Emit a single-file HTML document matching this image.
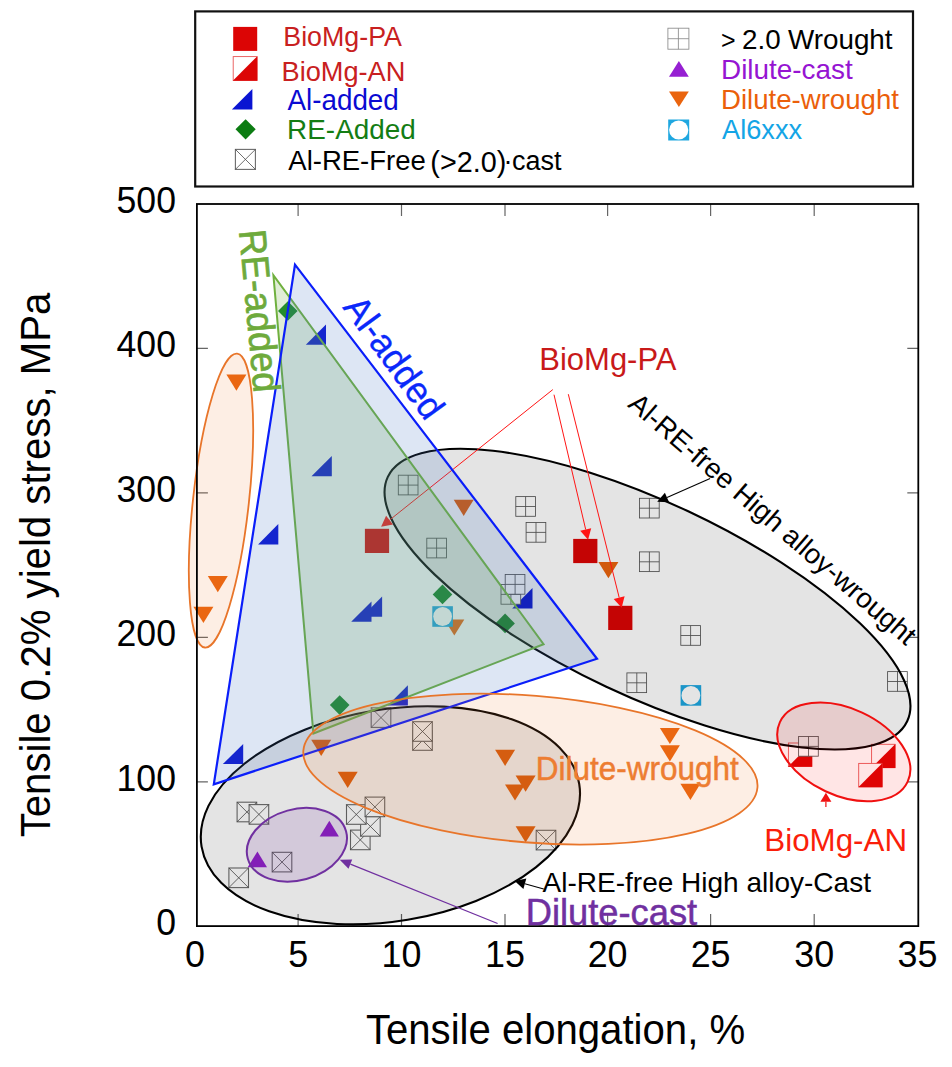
<!DOCTYPE html>
<html><head><meta charset="utf-8"><title>chart</title>
<style>html,body{margin:0;padding:0;background:#fff}svg{display:block}</style>
</head><body>
<svg width="952" height="1067" viewBox="0 0 952 1067" font-family="'Liberation Sans', sans-serif">
<rect width="952" height="1067" fill="#fff"/>
<rect x="195.2" y="11.4" width="717.8" height="175.1" fill="#fff" stroke="#111" stroke-width="2.2"/>
<rect x="233.2" y="26.9" width="24" height="24" fill="#dc0505"/>
<rect x="233.2" y="56.6" width="23.8" height="23.8" fill="#fff" stroke="#e85555" stroke-width="0.9"/>
<path d="M257.4 56.2 L257.4 80.8 L232.8 80.8 Z" fill="#dc0505"/>
<path d="M252.4 89.0 L252.4 109.5 L231.9 109.5 Z" fill="#0a14d2"/>
<path d="M245.6 119.2 L255.7 129.3 L245.6 139.4 L235.5 129.3 Z" fill="#0c7c12"/>
<g fill="none"><rect x="235.4" y="149.4" width="20" height="20" stroke="#6a6a6a" stroke-width="1.1"/><path d="M235.4 149.4 L255.4 169.4 M255.4 149.4 L235.4 169.4" stroke="#4a4a4a" stroke-width="0.8"/></g>
<text x="283.3" y="45.7" font-size="26.8" fill="#c82020" text-anchor="start">BioMg-PA</text>
<text x="281.5" y="80.6" font-size="27.2" fill="#c82020" text-anchor="start">BioMg-AN</text>
<text transform="translate(287.5 109.6) scale(0.952 1)" font-size="29.2" fill="#0a0ad2" text-anchor="start">Al-added</text>
<text x="287.1" y="139.4" font-size="27.9" fill="#147d14" text-anchor="start">RE-Added</text>
<text x="288.3" y="170.0" font-size="27.5" fill="#000" text-anchor="start">Al-RE-Free</text>
<text x="430.3" y="172.0" font-size="28.8" fill="#000" text-anchor="start">(&gt;2.0)</text>
<text x="503.5" y="170.0" font-size="27" fill="#000" text-anchor="start">·</text>
<text x="512.0" y="170.0" font-size="27" fill="#000" text-anchor="start">cast</text>
<g stroke="#8a8a8a" stroke-width="0.85" fill="#fff"><rect x="667.9" y="28.2" width="21" height="21"/><path d="M678.4 28.2 L678.4 49.2 M667.9 38.7 L688.9 38.7"/></g>
<path d="M678.9 61.0 L688.8 76.8 L669.0 76.8 Z" fill="#9620d2"/>
<path d="M669.0 91.5 L688.8 91.5 L678.9 106.9 Z" fill="#ea640e"/>
<rect x="668.2" y="119.5" width="21" height="21" fill="#1fa7e0"/><circle cx="678.7" cy="130.0" r="9.6" fill="#fff"/>
<text x="721.0" y="48.7" font-size="25" fill="#000" text-anchor="start">&gt;</text>
<text x="742.0" y="48.7" font-size="27.8" fill="#000" text-anchor="start">2.0</text>
<text x="788.0" y="48.7" font-size="27.8" fill="#000" text-anchor="start">Wrought</text>
<text x="721.0" y="78.9" font-size="27.9" fill="#9614d2" text-anchor="start">Dilute-cast</text>
<text x="721.0" y="109.3" font-size="27.6" fill="#eb5f0a" text-anchor="start">Dilute-wrought</text>
<text x="722.0" y="139.4" font-size="27.2" fill="#14a5e6" text-anchor="start">Al6xxx</text>
<g stroke="#666" stroke-width="1.2">
<path d="M298.1 926.1 V914.1 M298.1 204.0 V216.0"/>
<path d="M401.5 926.1 V914.1 M401.5 204.0 V216.0"/>
<path d="M505.0 926.1 V914.1 M505.0 204.0 V216.0"/>
<path d="M607.6 926.1 V914.1 M607.6 204.0 V216.0"/>
<path d="M710.6 926.1 V914.1 M710.6 204.0 V216.0"/>
<path d="M814.2 926.1 V914.1 M814.2 204.0 V216.0"/>
<path d="M196.9 781.8 H207.9 M918.3 781.8 H907.3"/>
<path d="M196.9 637.3 H207.9 M918.3 637.3 H907.3"/>
<path d="M196.9 492.9 H207.9 M918.3 492.9 H907.3"/>
<path d="M196.9 348.4 H207.9 M918.3 348.4 H907.3"/>
</g>
<rect x="788.4" y="743.0" width="23.4" height="23.4" fill="#fff" stroke="#e85555" stroke-width="0.9"/>
<path d="M812.2 742.6 L812.2 766.8 L788.0 766.8 Z" fill="#dc0505"/>
<rect x="871.6" y="744.3" width="23.4" height="23.4" fill="#fff" stroke="#e85555" stroke-width="0.9"/>
<path d="M895.4 743.9 L895.4 768.1 L871.2 768.1 Z" fill="#dc0505"/>
<rect x="858.7" y="763.4" width="23.4" height="23.4" fill="#fff" stroke="#e85555" stroke-width="0.9"/>
<path d="M882.5 763.0 L882.5 787.2 L858.3 787.2 Z" fill="#dc0505"/>
<path d="M326.0 324.5 L326.0 344.8 L305.8 344.8 Z" fill="#0a14d2"/>
<path d="M331.8 456.1 L331.8 476.3 L311.5 476.3 Z" fill="#0a14d2"/>
<path d="M278.3 524.1 L278.3 544.4 L258.1 544.4 Z" fill="#0a14d2"/>
<path d="M382.1 596.5 L382.1 616.8 L361.9 616.8 Z" fill="#0a14d2"/>
<path d="M371.5 601.5 L371.5 621.8 L351.2 621.8 Z" fill="#0a14d2"/>
<path d="M532.5 588.1 L532.5 608.4 L512.2 608.4 Z" fill="#0a14d2"/>
<path d="M407.9 685.2 L407.9 705.5 L387.7 705.5 Z" fill="#0a14d2"/>
<path d="M243.2 743.9 L243.2 764.1 L222.8 764.1 Z" fill="#0a14d2"/>
<g stroke="#555" stroke-width="0.85" fill="#fff"><rect x="398.3" y="475.2" width="19.7" height="19.7"/><path d="M408.2 475.2 L408.2 495.0 M398.3 485.1 L418.1 485.1"/></g>
<g stroke="#555" stroke-width="0.85" fill="#fff"><rect x="426.8" y="538.2" width="19.7" height="19.7"/><path d="M436.6 538.2 L436.6 558.0 M426.8 548.1 L446.5 548.1"/></g>
<g stroke="#555" stroke-width="0.85" fill="#fff"><rect x="515.8" y="496.6" width="19.7" height="19.7"/><path d="M525.6 496.6 L525.6 516.4 M515.8 506.5 L535.5 506.5"/></g>
<g stroke="#555" stroke-width="0.85" fill="#fff"><rect x="526.1" y="522.5" width="19.7" height="19.7"/><path d="M536.0 522.5 L536.0 542.2 M526.1 532.4 L545.9 532.4"/></g>
<g stroke="#555" stroke-width="0.85" fill="#fff"><rect x="501.0" y="584.5" width="19.7" height="19.7"/><path d="M510.9 584.5 L510.9 604.2 M501.0 594.4 L520.8 594.4"/></g>
<g stroke="#555" stroke-width="0.85" fill="#fff"><rect x="505.2" y="574.5" width="19.7" height="19.7"/><path d="M515.1 574.5 L515.1 594.2 M505.2 584.4 L525.0 584.4"/></g>
<g stroke="#555" stroke-width="0.85" fill="#fff"><rect x="639.5" y="498.3" width="19.7" height="19.7"/><path d="M649.4 498.3 L649.4 518.0 M639.5 508.2 L659.2 508.2"/></g>
<g stroke="#555" stroke-width="0.85" fill="#fff"><rect x="639.5" y="551.9" width="19.7" height="19.7"/><path d="M649.4 551.9 L649.4 571.6 M639.5 561.8 L659.2 561.8"/></g>
<g stroke="#555" stroke-width="0.85" fill="#fff"><rect x="680.8" y="625.6" width="19.7" height="19.7"/><path d="M690.6 625.6 L690.6 645.4 M680.8 635.5 L700.5 635.5"/></g>
<g stroke="#555" stroke-width="0.85" fill="#fff"><rect x="626.9" y="672.9" width="19.7" height="19.7"/><path d="M636.8 672.9 L636.8 692.6 M626.9 682.8 L646.6 682.8"/></g>
<g stroke="#555" stroke-width="0.85" fill="#fff"><rect x="887.6" y="671.6" width="19.7" height="19.7"/><path d="M897.5 671.6 L897.5 691.4 M887.6 681.5 L907.4 681.5"/></g>
<g stroke="#555" stroke-width="0.85" fill="#fff"><rect x="798.6" y="736.5" width="19.7" height="19.7"/><path d="M808.5 736.5 L808.5 756.2 M798.6 746.4 L818.4 746.4"/></g>
<g fill="#fff"><rect x="237.1" y="802.2" width="19.6" height="19.6" stroke="#6a6a6a" stroke-width="1.1"/><path d="M237.1 802.2 L256.7 821.8 M256.7 802.2 L237.1 821.8" stroke="#4a4a4a" stroke-width="0.8"/></g>
<g fill="#fff"><rect x="249.1" y="804.6" width="19.6" height="19.6" stroke="#6a6a6a" stroke-width="1.1"/><path d="M249.1 804.6 L268.7 824.2 M268.7 804.6 L249.1 824.2" stroke="#4a4a4a" stroke-width="0.8"/></g>
<g fill="#fff"><rect x="228.9" y="868.0" width="19.6" height="19.6" stroke="#6a6a6a" stroke-width="1.1"/><path d="M228.9 868.0 L248.5 887.6 M248.5 868.0 L228.9 887.6" stroke="#4a4a4a" stroke-width="0.8"/></g>
<g fill="#fff"><rect x="272.2" y="852.3" width="19.6" height="19.6" stroke="#6a6a6a" stroke-width="1.1"/><path d="M272.2 852.3 L291.8 871.9 M291.8 852.3 L272.2 871.9" stroke="#4a4a4a" stroke-width="0.8"/></g>
<g fill="#fff"><rect x="350.5" y="830.1" width="19.6" height="19.6" stroke="#6a6a6a" stroke-width="1.1"/><path d="M350.5 830.1 L370.1 849.7 M370.1 830.1 L350.5 849.7" stroke="#4a4a4a" stroke-width="0.8"/></g>
<g fill="#fff"><rect x="360.6" y="816.6" width="19.6" height="19.6" stroke="#6a6a6a" stroke-width="1.1"/><path d="M360.6 816.6 L380.2 836.2 M380.2 816.6 L360.6 836.2" stroke="#4a4a4a" stroke-width="0.8"/></g>
<g fill="#fff"><rect x="346.5" y="804.7" width="19.6" height="19.6" stroke="#6a6a6a" stroke-width="1.1"/><path d="M346.5 804.7 L366.1 824.3 M366.1 804.7 L346.5 824.3" stroke="#4a4a4a" stroke-width="0.8"/></g>
<g fill="#fff"><rect x="365.1" y="797.1" width="19.6" height="19.6" stroke="#6a6a6a" stroke-width="1.1"/><path d="M365.1 797.1 L384.7 816.7 M384.7 797.1 L365.1 816.7" stroke="#4a4a4a" stroke-width="0.8"/></g>
<g fill="#fff"><rect x="371.2" y="707.8" width="19.6" height="19.6" stroke="#6a6a6a" stroke-width="1.1"/><path d="M371.2 707.8 L390.8 727.4 M390.8 707.8 L371.2 727.4" stroke="#4a4a4a" stroke-width="0.8"/></g>
<g fill="#fff"><rect x="412.7" y="730.7" width="19.6" height="19.6" stroke="#6a6a6a" stroke-width="1.1"/><path d="M412.7 730.7 L432.3 750.3 M432.3 730.7 L412.7 750.3" stroke="#4a4a4a" stroke-width="0.8"/></g>
<g fill="#fff"><rect x="412.7" y="721.7" width="19.6" height="19.6" stroke="#6a6a6a" stroke-width="1.1"/><path d="M412.7 721.7 L432.3 741.3 M432.3 721.7 L412.7 741.3" stroke="#4a4a4a" stroke-width="0.8"/></g>
<g fill="#fff"><rect x="536.2" y="830.3" width="19.6" height="19.6" stroke="#6a6a6a" stroke-width="1.1"/><path d="M536.2 830.3 L555.8 849.9 M555.8 830.3 L536.2 849.9" stroke="#4a4a4a" stroke-width="0.8"/></g>
<path d="M287.8 301.2 L297.6 311.0 L287.8 320.8 L278.0 311.0 Z" fill="#0f8424"/>
<path d="M442.5 584.6 L452.3 594.4 L442.5 604.2 L432.7 594.4 Z" fill="#0f8424"/>
<path d="M505.1 613.6 L514.9 623.4 L505.1 633.2 L495.3 623.4 Z" fill="#0f8424"/>
<path d="M339.7 695.3 L349.5 705.1 L339.7 714.9 L329.9 705.1 Z" fill="#0f8424"/>
<path d="M226.4 374.5 L246.4 374.5 L236.4 390.7 Z" fill="#ea640e"/>
<path d="M207.8 576.0 L227.8 576.0 L217.8 592.2 Z" fill="#ea640e"/>
<path d="M193.4 606.7 L213.4 606.7 L203.4 622.9 Z" fill="#ea640e"/>
<path d="M453.7 499.7 L473.7 499.7 L463.7 515.9 Z" fill="#ea640e"/>
<path d="M598.4 562.0 L618.4 562.0 L608.4 578.2 Z" fill="#ea640e"/>
<path d="M444.3 619.4 L464.3 619.4 L454.3 635.6 Z" fill="#ea640e"/>
<path d="M311.2 739.8 L331.2 739.8 L321.2 756.0 Z" fill="#ea640e"/>
<path d="M337.7 771.7 L357.7 771.7 L347.7 787.9 Z" fill="#ea640e"/>
<path d="M495.1 749.7 L515.1 749.7 L505.1 765.9 Z" fill="#ea640e"/>
<path d="M505.0 784.4 L525.0 784.4 L515.0 800.6 Z" fill="#ea640e"/>
<path d="M515.6 775.6 L535.6 775.6 L525.6 791.8 Z" fill="#ea640e"/>
<path d="M515.6 826.2 L535.6 826.2 L525.6 842.4 Z" fill="#ea640e"/>
<path d="M659.9 727.9 L679.9 727.9 L669.9 744.1 Z" fill="#ea640e"/>
<path d="M659.9 745.3 L679.9 745.3 L669.9 761.5 Z" fill="#ea640e"/>
<path d="M680.4 783.8 L700.4 783.8 L690.4 800.0 Z" fill="#ea640e"/>
<rect x="432.3" y="606.2" width="20.6" height="20.6" fill="#1fa7e0"/><circle cx="442.6" cy="616.5" r="9.4" fill="#fff"/>
<rect x="680.6" y="685.1" width="20.6" height="20.6" fill="#1fa7e0"/><circle cx="690.9" cy="695.4" r="9.4" fill="#fff"/>
<rect x="364.9" y="528.8" width="24.2" height="24.2" fill="#dc0505"/>
<rect x="573.2" y="538.9" width="24.2" height="24.2" fill="#dc0505"/>
<rect x="608.2" y="605.8" width="24.2" height="24.2" fill="#dc0505"/>
<path d="M329.3 820.8 L338.9 836.6 L319.7 836.6 Z" fill="#9620d2"/>
<path d="M257.4 851.5 L267.0 867.3 L247.7 867.3 Z" fill="#9620d2"/>
<ellipse cx="390.4" cy="815.3" rx="191.4" ry="105.9" transform="rotate(-9.4 390.4 815.3)" fill="rgba(0,0,0,0.106)" stroke="#000" stroke-width="2.1"/>
<ellipse cx="647.5" cy="599.1" rx="287" ry="96.8" transform="rotate(25.2 647.5 599.1)" fill="rgba(0,0,0,0.106)" stroke="#000" stroke-width="2.1"/>
<path d="M552.8 389.6 L389.5 520.1" stroke="#ff1414" stroke-width="1" fill="none"/>
<path d="M381.1 526.8 L386.1 515.8 L393.0 524.4 Z" fill="#ff1414"/>
<path d="M554.0 394.7 L585.7 529.5" stroke="#ff1414" stroke-width="1" fill="none"/>
<path d="M588.1 539.7 L580.2 530.8 L591.2 528.2 Z" fill="#ff1414"/>
<path d="M568.3 394.2 L619.2 597.6" stroke="#ff1414" stroke-width="1" fill="none"/>
<path d="M621.7 607.8 L613.7 599.0 L624.6 596.2 Z" fill="#ff1414"/>
<path d="M273.4 275.2 L313.4 733.5 L543.6 644.2 Z" fill="rgba(112,173,71,0.22)" stroke="#6fb03e" stroke-width="2"/>
<path d="M295 264.6 L213.8 784.3 L597 658.8 Z" fill="rgba(68,114,196,0.18)" stroke="#0a1efa" stroke-width="2.2" stroke-linejoin="miter"/>
<ellipse cx="530.4" cy="769.1" rx="227.8" ry="73.4" transform="rotate(4.64 530.4 769.1)" fill="rgba(237,125,49,0.13)" stroke="#e8752a" stroke-width="1.8"/>
<ellipse cx="221" cy="500.6" rx="27.95" ry="147.8" transform="rotate(6.27 221 500.6)" fill="rgba(237,125,49,0.13)" stroke="#e8752a" stroke-width="1.8"/>
<ellipse cx="296.9" cy="844.8" rx="51" ry="35.5" transform="rotate(-15.5 296.9 844.8)" fill="rgba(112,48,160,0.15)" stroke="#7030a0" stroke-width="2"/>
<ellipse cx="843.8" cy="751.9" rx="70.5" ry="43.4" transform="rotate(25 843.8 751.9)" fill="rgba(255,0,0,0.10)" stroke="#f01010" stroke-width="2"/>
<rect x="196.9" y="204.0" width="721.4" height="722.1" fill="none" stroke="#000" stroke-width="1.8"/>
<path d="M710.1 478.4 L667.0 497.5" stroke="#000" stroke-width="1.1" fill="none"/>
<path d="M657.2 501.8 L664.9 492.7 L669.1 502.3 Z" fill="#000"/>
<path d="M543.7 889.0 L524.8 883.8" stroke="#000" stroke-width="1.1" fill="none"/>
<path d="M514.7 881.0 L526.3 878.5 L523.4 889.1 Z" fill="#000"/>
<path d="M825.9 807.0 L825.9 801.8" stroke="#f01010" stroke-width="1.2" fill="none"/>
<path d="M825.9 792.8 L831.4 801.8 L820.4 801.8 Z" fill="#f01010"/>
<path d="M497.6 923.5 L350.4 864.1" stroke="#7030a0" stroke-width="1.2" fill="none"/>
<path d="M339.7 859.8 L352.2 859.5 L348.5 868.7 Z" fill="#7030a0"/>
<text transform="translate(539.3 369.6) scale(0.987 1)" font-size="31.4" fill="#c81919" text-anchor="start">BioMg-PA</text>
<text transform="translate(764.3 851.1) scale(1.024 1)" font-size="30.6" fill="#fa1e0a" text-anchor="start">BioMg-AN</text>
<text transform="translate(535.7 779.8) scale(0.969 1)" font-size="32.5" fill="#ed7d31" text-anchor="start" stroke="#ed7d31" stroke-width="0.5">Dilute-wrought</text>
<text x="542.6" y="892.4" font-size="28" fill="#000" text-anchor="start">Al-RE-free High alloy-Cast</text>
<text x="525.7" y="924.6" font-size="36.3" fill="#7030a0" text-anchor="start" stroke="#7030a0" stroke-width="0.5">Dilute-cast</text>
<text x="626.8" y="406.1" font-size="27.85" fill="#000" text-anchor="start" transform="rotate(40.7 626.8 406.1)">Al-RE-free High alloy-wrought</text>
<text transform="translate(342.1 307.6) rotate(53.8) scale(0.96 1)" font-size="37" fill="#0a28fa" text-anchor="start" stroke="#0a28fa" stroke-width="0.3">Al-added</text>
<text transform="translate(239.1 230.7) rotate(84.8) scale(0.95 1)" font-size="38.2" fill="#6eaa3c" text-anchor="start" stroke="#6eaa3c" stroke-width="0.7">RE-added</text>
<text transform="translate(298.1 967.0) scale(0.962 1)" font-size="37.3" fill="#000" text-anchor="middle">5</text>
<text transform="translate(401.5 967.0) scale(0.962 1)" font-size="37.3" fill="#000" text-anchor="middle">10</text>
<text transform="translate(505.0 967.0) scale(0.962 1)" font-size="37.3" fill="#000" text-anchor="middle">15</text>
<text transform="translate(607.6 967.0) scale(0.962 1)" font-size="37.3" fill="#000" text-anchor="middle">20</text>
<text transform="translate(710.6 967.0) scale(0.962 1)" font-size="37.3" fill="#000" text-anchor="middle">25</text>
<text transform="translate(814.2 967.0) scale(0.962 1)" font-size="37.3" fill="#000" text-anchor="middle">30</text>
<text transform="translate(195.0 967.0) scale(0.962 1)" font-size="37.3" fill="#000" text-anchor="middle">0</text>
<text transform="translate(917.5 967.0) scale(0.962 1)" font-size="37.3" fill="#000" text-anchor="middle">35</text>
<text transform="translate(176.0 935.2) scale(0.955 1)" font-size="37.3" fill="#000" text-anchor="end">0</text>
<text transform="translate(176.0 790.8) scale(0.955 1)" font-size="37.3" fill="#000" text-anchor="end">100</text>
<text transform="translate(176.0 646.3) scale(0.955 1)" font-size="37.3" fill="#000" text-anchor="end">200</text>
<text transform="translate(176.0 501.9) scale(0.955 1)" font-size="37.3" fill="#000" text-anchor="end">300</text>
<text transform="translate(176.0 357.4) scale(0.955 1)" font-size="37.3" fill="#000" text-anchor="end">400</text>
<text transform="translate(176.0 213.0) scale(0.955 1)" font-size="37.3" fill="#000" text-anchor="end">500</text>
<text transform="translate(555.5 1044.1) scale(0.965 1)" font-size="41.6" fill="#000" text-anchor="middle">Tensile elongation, %</text>
<text transform="translate(50.2 565.0) rotate(-90) scale(0.966 1)" font-size="41.6" fill="#000" text-anchor="middle">Tensile 0.2% yield stress, MPa</text>
</svg>
</body></html>
